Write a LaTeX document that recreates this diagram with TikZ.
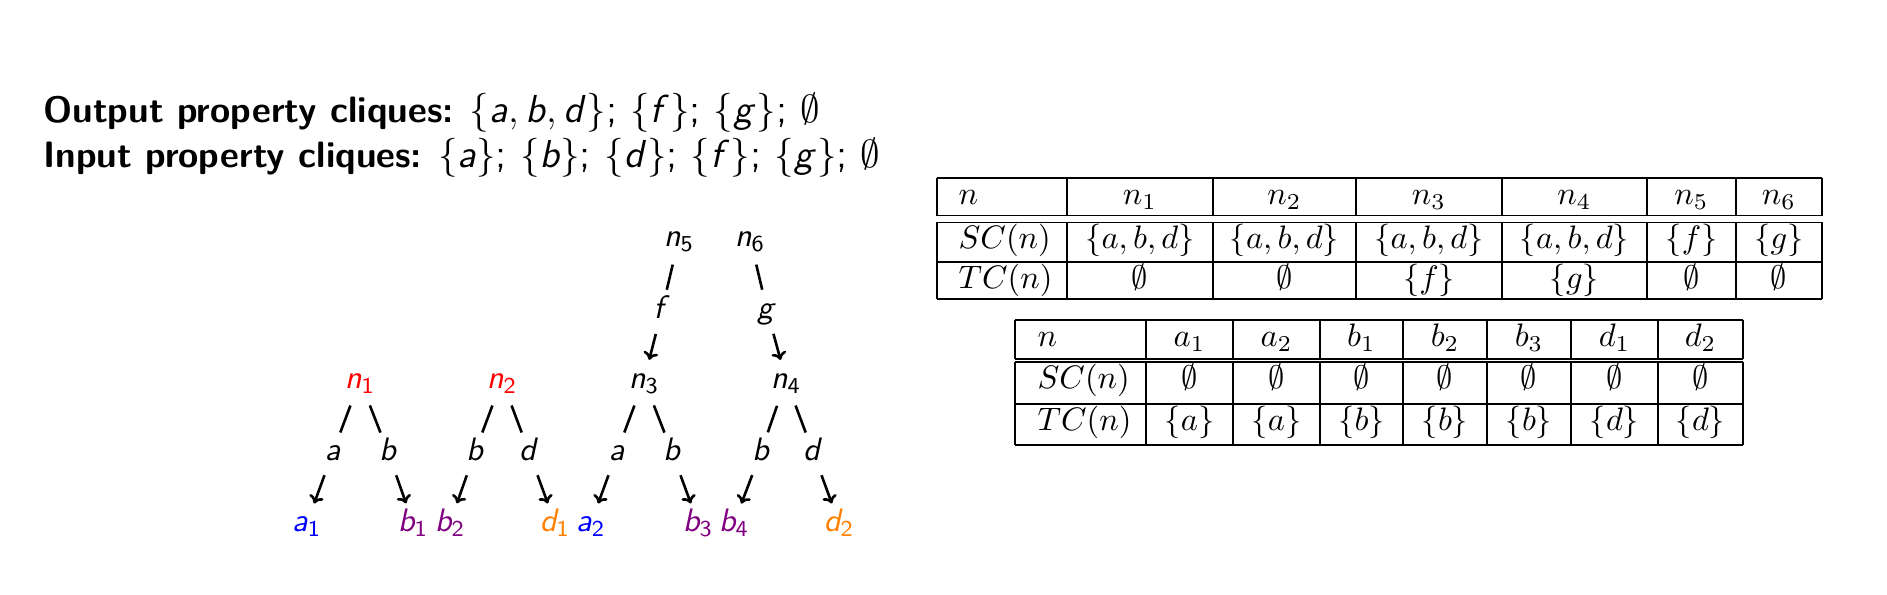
\documentclass[tikz,border=0pt]{standalone}
\usetikzlibrary{arrows.meta}
\DeclareMathAlphabet{\mathsfit}{OT1}{cmss}{m}{sl}
\newcommand{\sv}[1]{\mathsfit{#1}}
\newcommand{\svs}[2]{\mathsfit{#1}_{\mathsf{#2}}}
\newcommand{\setpart}{\fontsize{12.5}{14}\selectfont}
\begin{document}
\begin{tikzpicture}[x=0.30769pt,y=-0.30769pt,
  hdr/.style={font=\sffamily\fontsize{11.3}{13}\selectfont, inner sep=0pt, anchor=base west},
  tnode/.style={font=\sffamily, inner sep=0pt, text height=1.5ex, text depth=.25ex, anchor=center},
  plainedge/.style={line width=0.8pt, shorten <=8.4pt, shorten >=6.4pt},
  arrowedge/.style={line width=0.8pt, -{To[length=2.4pt,width=4.6pt]}, shorten <=7.6pt, shorten >=6.4pt},
  cell/.style={inner sep=0pt, anchor=base},
  lcell/.style={inner sep=0pt, anchor=base west},
  grid/.style={line width=0.42pt}]
\useasboundingbox (0,0) rectangle (1887,595);

% header lines
\node[hdr] (outp) at (42.7,123) {\textbf{Output property cliques:} {\setpart $\{\sv{a}, \sv{b}, \sv{d}\}$; $\{\sv{f}\}$; $\{\sv{g}\}$; $\emptyset$}};
\node[hdr] (inp) at (42.7,168) {\textbf{Input property cliques:} {\setpart $\{\sv{a}\}$; $\{\sv{b}\}$; $\{\sv{d}\}$; $\{\sv{f}\}$; $\{\sv{g}\}$; $\emptyset$}};

% tree: top
\node[tnode] (n5) at (679,238) {$\svs{n}{5}$};
\node[tnode] (n6) at (750,238) {$\svs{n}{6}$};
\node[tnode] (lf) at (662,310) {$\sv{f}$};
\node[tnode] (lg) at (767,310) {$\sv{g}$};
% middle
\node[tnode, text=red] (n1) at (360,380) {$\svs{n}{1}$};
\node[tnode, text=red] (n2) at (502,380) {$\svs{n}{2}$};
\node[tnode] (n3) at (644,380) {$\svs{n}{3}$};
\node[tnode] (n4) at (786,380) {$\svs{n}{4}$};
% edge labels
\node[tnode] (l1a) at (333,452) {$\sv{a}$};
\node[tnode] (l1b) at (388,452) {$\sv{b}$};
\node[tnode] (l2b) at (475,452) {$\sv{b}$};
\node[tnode] (l2d) at (529,452) {$\sv{d}$};
\node[tnode] (l3a) at (617,452) {$\sv{a}$};
\node[tnode] (l3b) at (672,452) {$\sv{b}$};
\node[tnode] (l4b) at (761,452) {$\sv{b}$};
\node[tnode] (l4d) at (813,452) {$\sv{d}$};
% leaves
\node[tnode, text=blue] (a1) at (307,523) {$\svs{a}{1}$};
\node[tnode, text=violet] (b1) at (413,523) {$\svs{b}{1}$};
\node[tnode, text=violet] (b2) at (450,523) {$\svs{b}{2}$};
\node[tnode, text=orange] (d1) at (555,523) {$\svs{d}{1}$};
\node[tnode, text=blue] (a2) at (591,523) {$\svs{a}{2}$};
\node[tnode, text=violet] (b3) at (698,523) {$\svs{b}{3}$};
\node[tnode, text=violet] (b4) at (734,523) {$\svs{b}{4}$};
\node[tnode, text=orange] (d2) at (839,523) {$\svs{d}{2}$};

% edges (line part)
\draw[plainedge] (n5.center) -- (lf.center);
\draw[plainedge] (n6.center) -- (lg.center);
\draw[plainedge] (n1.center) -- (l1a.center);
\draw[plainedge] (n1.center) -- (l1b.center);
\draw[plainedge] (n2.center) -- (l2b.center);
\draw[plainedge] (n2.center) -- (l2d.center);
\draw[plainedge] (n3.center) -- (l3a.center);
\draw[plainedge] (n3.center) -- (l3b.center);
\draw[plainedge] (n4.center) -- (l4b.center);
\draw[plainedge] (n4.center) -- (l4d.center);
% edges (arrow part)
\draw[arrowedge] (lf.center) -- (n3.center);
\draw[arrowedge] (lg.center) -- (n4.center);
\draw[arrowedge] (l1a.center) -- (a1.center);
\draw[arrowedge] (l1b.center) -- (b1.center);
\draw[arrowedge] (l2b.center) -- (b2.center);
\draw[arrowedge] (l2d.center) -- (d1.center);
\draw[arrowedge] (l3a.center) -- (a2.center);
\draw[arrowedge] (l3b.center) -- (b3.center);
\draw[arrowedge] (l4b.center) -- (b4.center);
\draw[arrowedge] (l4d.center) -- (d2.center);

% table 1 grid
\foreach \yy in {178,215.7,222.3,262,299} \draw[grid] (937,\yy) -- (1822,\yy);
\foreach \xx in {937,1067,1213,1356,1502,1647,1736,1822} {
  \draw[grid] (\xx,178) -- (\xx,215.7);
  \draw[grid] (\xx,222.3) -- (\xx,299);
}
% table 1 texts
\node[lcell] (t1h0) at (958,205) {$n$};
\node[lcell] (t1s0) at (958,249) {$SC(n)$};
\node[lcell] (t1t0) at (958,289) {$TC(n)$};
\foreach \cx/\hh/\ss/\tt [count=\i] in {1140/{$n_1$}/{$\{a,b,d\}$}/{$\emptyset$},
    1284.5/{$n_2$}/{$\{a,b,d\}$}/{$\emptyset$},
    1429/{$n_3$}/{$\{a,b,d\}$}/{$\{f\}$},
    1574.5/{$n_4$}/{$\{a,b,d\}$}/{$\{g\}$},
    1691.5/{$n_5$}/{$\{f\}$}/{$\emptyset$},
    1779/{$n_6$}/{$\{g\}$}/{$\emptyset$}} {
  \node[cell] (t1h\i) at (\cx,205) {\hh};
  \node[cell] (t1s\i) at (\cx,249) {\ss};
  \node[cell] (t1t\i) at (\cx,289) {\tt};
}

% table 2 grid
\foreach \yy in {320,359,362,404,445} \draw[grid] (1015,\yy) -- (1743,\yy);
\foreach \xx in {1015,1146,1233,1320,1403,1487,1571,1658,1743} {
  \draw[grid] (\xx,320) -- (\xx,359);
  \draw[grid] (\xx,362) -- (\xx,445);
}
% table 2 texts
\node[lcell] (t2h0) at (1037,347) {$n$};
\node[lcell] (t2s0) at (1037,389) {$SC(n)$};
\node[lcell] (t2t0) at (1037,431) {$TC(n)$};
\foreach \cx/\hh/\tt [count=\i] in {1189.5/{$a_1$}/{$\{a\}$},
    1276.5/{$a_2$}/{$\{a\}$},
    1361.5/{$b_1$}/{$\{b\}$},
    1445/{$b_2$}/{$\{b\}$},
    1529/{$b_3$}/{$\{b\}$},
    1614.5/{$d_1$}/{$\{d\}$},
    1700.5/{$d_2$}/{$\{d\}$}} {
  \node[cell] (t2h\i) at (\cx,347) {\hh};
  \node[cell] (t2s\i) at (\cx,389) {$\emptyset$};
  \node[cell] (t2t\i) at (\cx,431) {\tt};
}
\end{tikzpicture}
\end{document}
